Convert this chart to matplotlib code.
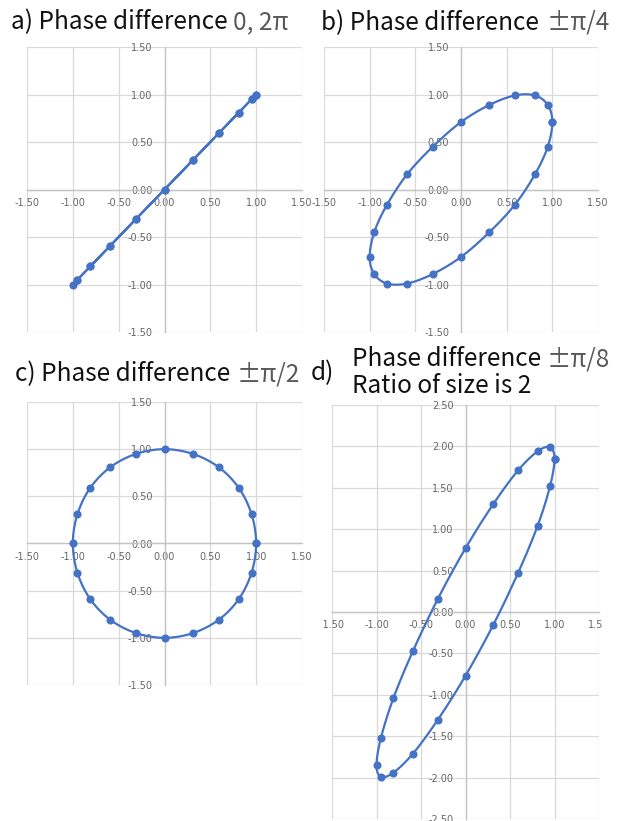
import numpy as np
import matplotlib
matplotlib.use('Agg')
import matplotlib.pyplot as plt
from matplotlib.transforms import Bbox, TransformedBbox

x_wave = [1.00, 0.95, 0.81, 0.59, 0.31, 0.00, -0.31, -0.59, -0.81, -0.95, -1.00,
          -0.95, -0.81, -0.59, -0.31, 0.00, 0.31, 0.59, 0.81, 0.95, 1.00]
# a) phase difference 0
y_a = [1.00, 0.95, 0.81, 0.59, 0.31, 0.00, -0.31, -0.59, -0.81, -0.95, -1.00,
       -0.95, -0.81, -0.59, -0.31, 0.00, 0.31, 0.59, 0.81, 0.95, 1.00]
# b) phase difference pi/4
y_b = [0.71, 0.89, 0.99, 0.99, 0.89, 0.71, 0.45, 0.16, -0.16, -0.45, -0.71,
       -0.89, -0.99, -0.99, -0.89, -0.71, -0.45, -0.16, 0.16, 0.45, 0.71]
# c) phase difference pi/2
y_c = [0.00, 0.31, 0.59, 0.81, 0.95, 1.00, 0.95, 0.81, 0.59, 0.31, 0.00,
       -0.31, -0.59, -0.81, -0.95, -1.00, -0.95, -0.81, -0.59, -0.31, 0.00]
# d) phase difference pi/8, size ratio 2
y_d = [1.85, 1.99, 1.94, 1.71, 1.30, 0.77, 0.16, -0.47, -1.04, -1.52, -1.85,
       -1.99, -1.94, -1.71, -1.30, -0.77, -0.16, 0.47, 1.04, 1.52, 1.85]

x_ticks = [-1.5, -1.0, -0.5, 0.0, 0.5, 1.0, 1.5]
y_ticks_small = [-1.5, -1.0, -0.5, 0.0, 0.5, 1.0, 1.5]
y_ticks_big = [-2.5, -2.0, -1.5, -1.0, -0.5, 0.0, 0.5, 1.0, 1.5, 2.0, 2.5]

W, H = 624, 821
BLUE = '#4472C4'
TITLE_FONT = ['Noto Sans CJK SC', 'DejaVu Sans']
TICK_FONT = ['Lato', 'DejaVu Sans']

fig = plt.figure(figsize=(W / 100, H / 100), dpi=100)


def smooth(x, y, n=16):
    # catmull-rom curve through the points, like Excel's smoothed line
    p = np.column_stack([x, y]).astype(float)
    if np.allclose(p[0], p[-1]):
        ext = np.vstack([p[-2], p, p[1]])
    else:
        ext = np.vstack([p[0], p, p[-1]])
    out = []
    t = np.linspace(0, 1, n, endpoint=False)[:, None]
    for i in range(1, len(ext) - 2):
        p0, p1, p2, p3 = ext[i - 1], ext[i], ext[i + 1], ext[i + 2]
        seg = 0.5 * ((2 * p1) + (-p0 + p2) * t + (2 * p0 - 5 * p1 + 4 * p2 - p3) * t ** 2
                     + (-p0 + 3 * p1 - 3 * p2 + p3) * t ** 3)
        out.append(seg)
    out.append(p[-1][None, :])
    out = np.vstack(out)
    return out[:, 0], out[:, 1]


def make_axes(l, t, r, b):
    return fig.add_axes([l / W, 1 - b / H, (r - l) / W, (b - t) / H])


def setup(ax, yticks, clip=None):
    ax.set_xlim(-1.5, 1.5)
    ax.set_ylim(yticks[0], yticks[-1])
    ax.set_xticks(x_ticks)
    ax.set_yticks(yticks)
    ax.set_xticklabels([f'{v:.2f}' for v in x_ticks], family=TICK_FONT)
    ax.set_yticklabels([f'{v:.2f}' for v in yticks], family=TICK_FONT)
    ax.grid(True, color='#d9d9d9', lw=0.9)
    for g in ax.get_xgridlines() + ax.get_ygridlines():
        g.set_clip_on(False)
    ax.spines['top'].set_visible(False)
    ax.spines['right'].set_visible(False)
    ax.spines['left'].set_position('zero')
    ax.spines['bottom'].set_position('zero')
    ax.spines['left'].set_color('#c4c4c4')
    ax.spines['bottom'].set_color('#c4c4c4')
    ax.spines['left'].set_linewidth(1.0)
    ax.spines['bottom'].set_linewidth(1.0)
    ax.tick_params(axis='both', length=0, labelsize=7, labelcolor='#666666')
    ax.tick_params(axis='x', pad=6)
    ax.tick_params(axis='y', pad=8.5)
    ax.set_axisbelow(True)
    if clip is not None:
        box = TransformedBbox(Bbox.from_extents(clip[0] / W, 0, clip[1] / W, 1), fig.transFigure)
        for lab in ax.get_xticklabels():
            lab.set_clip_on(True)
            lab.set_clip_box(box)


def plot_curve(ax, x, y):
    sx, sy = smooth(x, y)
    ax.plot(sx, sy, color=BLUE, lw=1.6, zorder=3, clip_on=False)
    ax.plot(x, y, 'o', color=BLUE, ms=4.8, zorder=4, clip_on=False)


def title(x, y, black, gray, gx):
    fig.text(x / W, 1 - y / H, black, family=TITLE_FONT, fontsize=17.5,
             color='#111111', va='baseline', ha='left')
    if gray:
        fig.text(gx / W, 1 - y / H, gray, family=TITLE_FONT, fontsize=17.5,
                 color='#595959', va='baseline', ha='left')


ax_a = make_axes(27, 47, 302, 332)
setup(ax_a, y_ticks_small)
plot_curve(ax_a, x_wave, y_a)

ax_b = make_axes(324, 47, 598, 332)
setup(ax_b, y_ticks_small)
plot_curve(ax_b, x_wave, y_b)

ax_c = make_axes(27, 402, 302, 685)
setup(ax_c, y_ticks_small)
plot_curve(ax_c, x_wave, y_c)

ax_d = make_axes(332, 405, 599, 819)
setup(ax_d, y_ticks_big, clip=(324, 603))
plot_curve(ax_d, x_wave, y_d)

title(11, 29, 'a) Phase difference', '0, 2π', 233)
title(321, 30, 'b) Phase difference', '±π/4', 547)
title(15, 381, 'c) Phase difference', '±π/2', 237)
title(311, 380, 'd)', None, 0)
title(352, 366, 'Phase difference', '±π/8', 547)
title(352, 393, 'Ratio of size is 2', None, 0)

fig.savefig('out.png', dpi=100, facecolor='white')
